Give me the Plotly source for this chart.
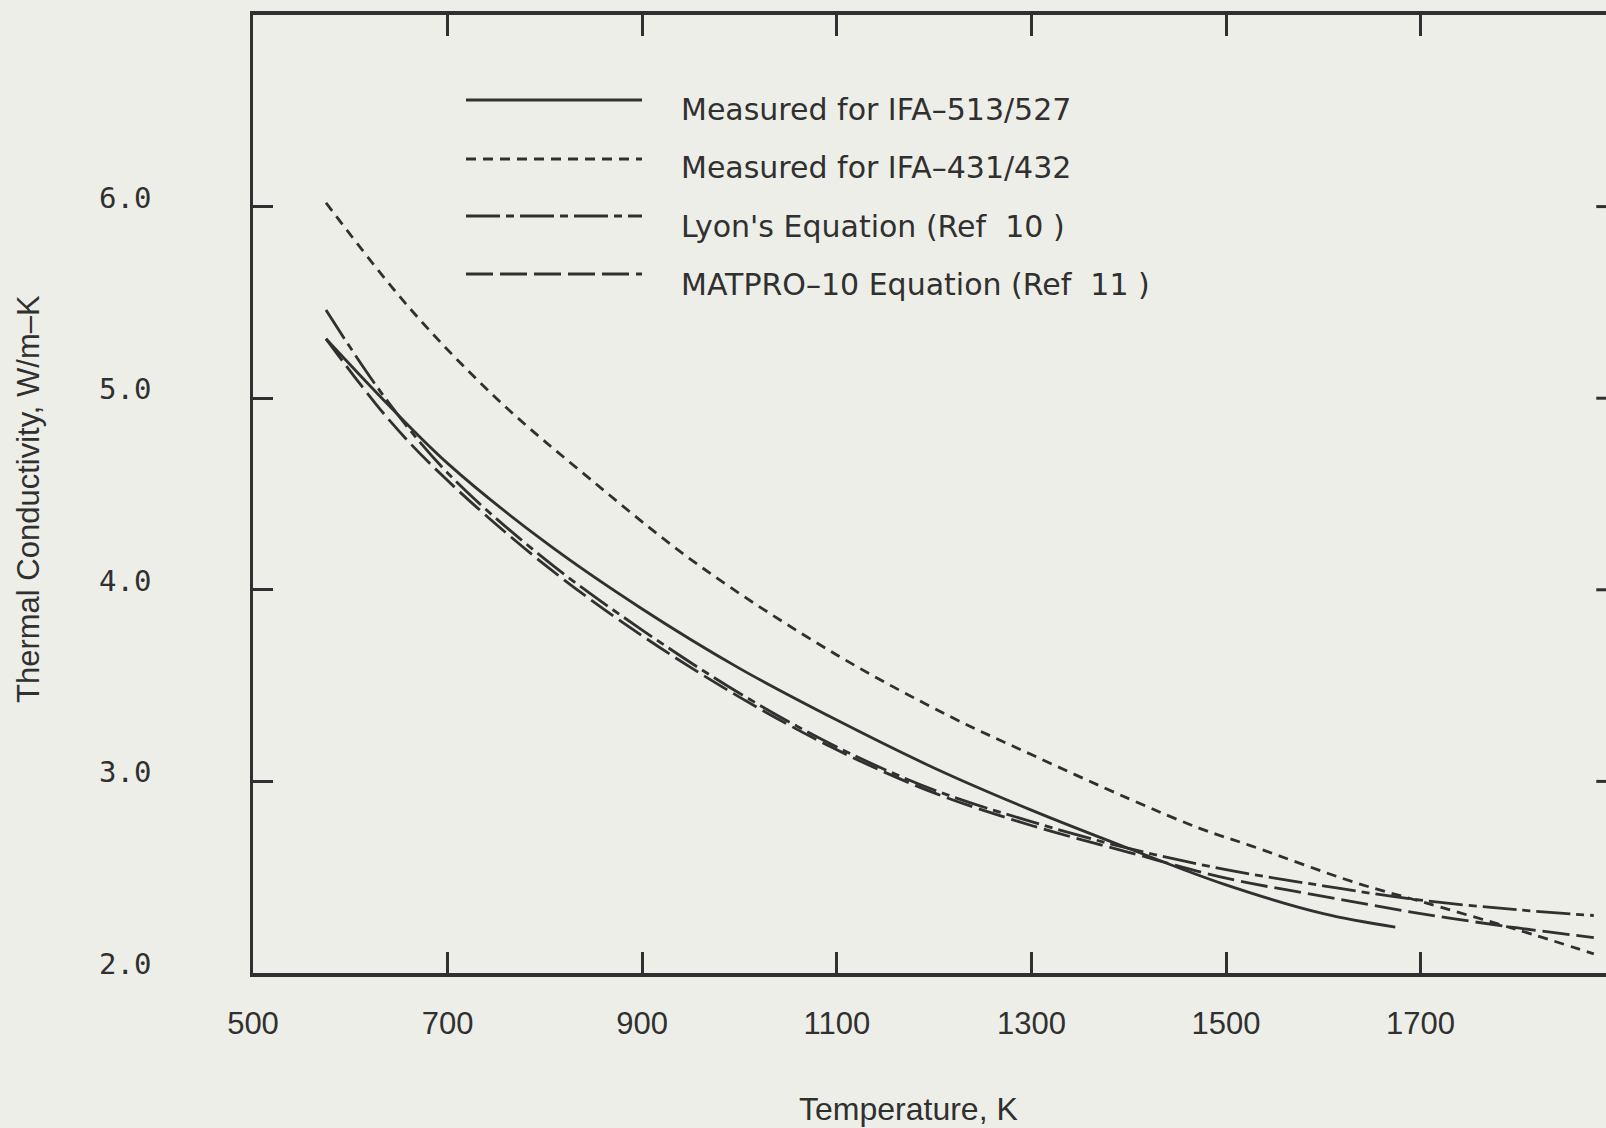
import plotly.graph_objects as go

# ---- data ----
temp_513 = [575, 640, 700, 800, 900, 1000, 1100, 1200, 1300, 1400, 1500, 1600, 1674]
k_513 = [5.31, 4.96, 4.66, 4.25, 3.90, 3.59, 3.32, 3.07, 2.85, 2.65, 2.46, 2.31, 2.24]

temp_431 = [575, 661, 750, 846, 959, 1100, 1216, 1300, 1400, 1473, 1525, 1634, 1699, 1800, 1878]
k_431 = [6.02, 5.47, 5.00, 4.58, 4.125, 3.66, 3.34, 3.14, 2.91, 2.755, 2.665, 2.47, 2.375, 2.225, 2.10]

temp_lyon = [575, 636, 700, 800, 900, 1000, 1100, 1200, 1300, 1400, 1500, 1600, 1700, 1800, 1878]
k_lyon = [5.46, 5.00, 4.61, 4.16, 3.79, 3.46, 3.18, 2.955, 2.79, 2.65, 2.54, 2.455, 2.38, 2.33, 2.30]

temp_matpro = [575, 641, 700, 800, 900, 1000, 1100, 1200, 1300, 1400, 1500, 1600, 1700, 1800, 1878]
k_matpro = [5.31, 4.88, 4.57, 4.13, 3.76, 3.44, 3.165, 2.94, 2.77, 2.63, 2.495, 2.40, 2.31, 2.235, 2.185]

series_names = ["Measured for IFA\u2013513/527", "Measured for IFA\u2013431/432",
                "Lyon's Equation (Ref  10 )", "MATPRO\u201310 Equation (Ref  11 )"]

x_ticks = [500, 700, 900, 1100, 1300, 1500, 1700]
x_tick_labels = ["500", "700", "900", "1100", "1300", "1500", "1700"]
y_ticks = [2, 3, 4, 5, 6]
y_tick_labels = ["2.0", "3.0", "4.0", "5.0", "6.0"]

# ---- styling ----
INK = "rgb(48,48,48)"
PAPER = "rgb(238,238,232)"
W, H = 1606, 1128
L, T, B = 253, 15, 155
plot_w = W - L
plot_h = H - T - B
x_range = [500, 500 + plot_w / 0.973]
y_range = [2, 7]

dashes = ["solid", "10px,7px", "34px,6px,8px,6px", "27px,7px"]
xs = [temp_513, temp_431, temp_lyon, temp_matpro]
ys = [k_513, k_431, k_lyon, k_matpro]

fig = go.Figure()
for name, x, y, d in zip(series_names, xs, ys, dashes):
    fig.add_trace(go.Scatter(x=x, y=y, mode="lines", name=name,
                             line=dict(color=INK, width=2.8, dash=d, shape="spline", smoothing=1.0),
                             showlegend=False))

def px_to_paper(X, Y):
    return (X - L) / plot_w, (H - B - Y) / plot_h

shapes = []
annotations = []

# manual legend
leg_line_y = [100, 159, 216, 274]
leg_text_y = [110, 168, 226, 284]
for name, d, ly, ty in zip(series_names, dashes, leg_line_y, leg_text_y):
    x0, y0 = px_to_paper(466, ly)
    x1, _ = px_to_paper(642, ly)
    shapes.append(dict(type="line", xref="paper", yref="paper", x0=x0, x1=x1, y0=y0, y1=y0,
                       line=dict(color=INK, width=2.8, dash=d)))
    tx, tyy = px_to_paper(679, ty)
    annotations.append(dict(xref="paper", yref="paper", x=tx, y=tyy, text=name, showarrow=False,
                            xanchor="left", yanchor="middle",
                            font=dict(family="DejaVu Sans", size=30, color=INK)))

# right-edge y ticks (right axis itself lies just outside the page)
for yt in [3, 4, 5, 6]:
    shapes.append(dict(type="line", xref="x", yref="y", x0=x_range[1] - 10, x1=x_range[1] + 5,
                       y0=yt, y1=yt, line=dict(color=INK, width=3)))

# y tick labels
for yt, lab in zip(y_ticks, y_tick_labels):
    annotations.append(dict(xref="paper", yref="y", x=0, y=yt, text=lab, showarrow=False,
                            xanchor="right", yanchor="middle", xshift=-100, yshift=9,
                            font=dict(family="DejaVu Sans Mono", size=29, color=INK)))

# axis titles
tx, tyy = px_to_paper(908, 1109)
annotations.append(dict(xref="paper", yref="paper", x=tx, y=tyy, text="Temperature, K", showarrow=False,
                        xanchor="center", yanchor="middle",
                        font=dict(family="Liberation Sans", size=32, color=INK)))
tx, tyy = px_to_paper(29, 499)
annotations.append(dict(xref="paper", yref="paper", x=tx, y=tyy, text="Thermal Conductivity, W/m\u2013K",
                        showarrow=False, textangle=-90, xanchor="center", yanchor="middle",
                        font=dict(family="Liberation Sans", size=31, color=INK)))

fig.update_layout(
    width=W, height=H,
    margin=dict(l=L, r=0, t=T, b=B, pad=0),
    paper_bgcolor=PAPER, plot_bgcolor=PAPER,
    shapes=shapes, annotations=annotations,
)
fig.update_xaxes(range=x_range, tickvals=x_ticks, ticktext=x_tick_labels,
                 ticks="inside", ticklen=21, tickwidth=3, tickcolor=INK,
                 showline=True, linewidth=3.5, linecolor=INK, mirror="ticks",
                 showgrid=False, zeroline=False, ticklabelstandoff=20,
                 tickfont=dict(family="Liberation Sans", size=31, color=INK))
fig.update_yaxes(range=y_range, tickvals=[3, 4, 5, 6], showticklabels=False,
                 ticks="inside", ticklen=20, tickwidth=3, tickcolor=INK,
                 showline=True, linewidth=3, linecolor=INK, mirror=False,
                 showgrid=False, zeroline=False)

fig.write_html("out.html")
